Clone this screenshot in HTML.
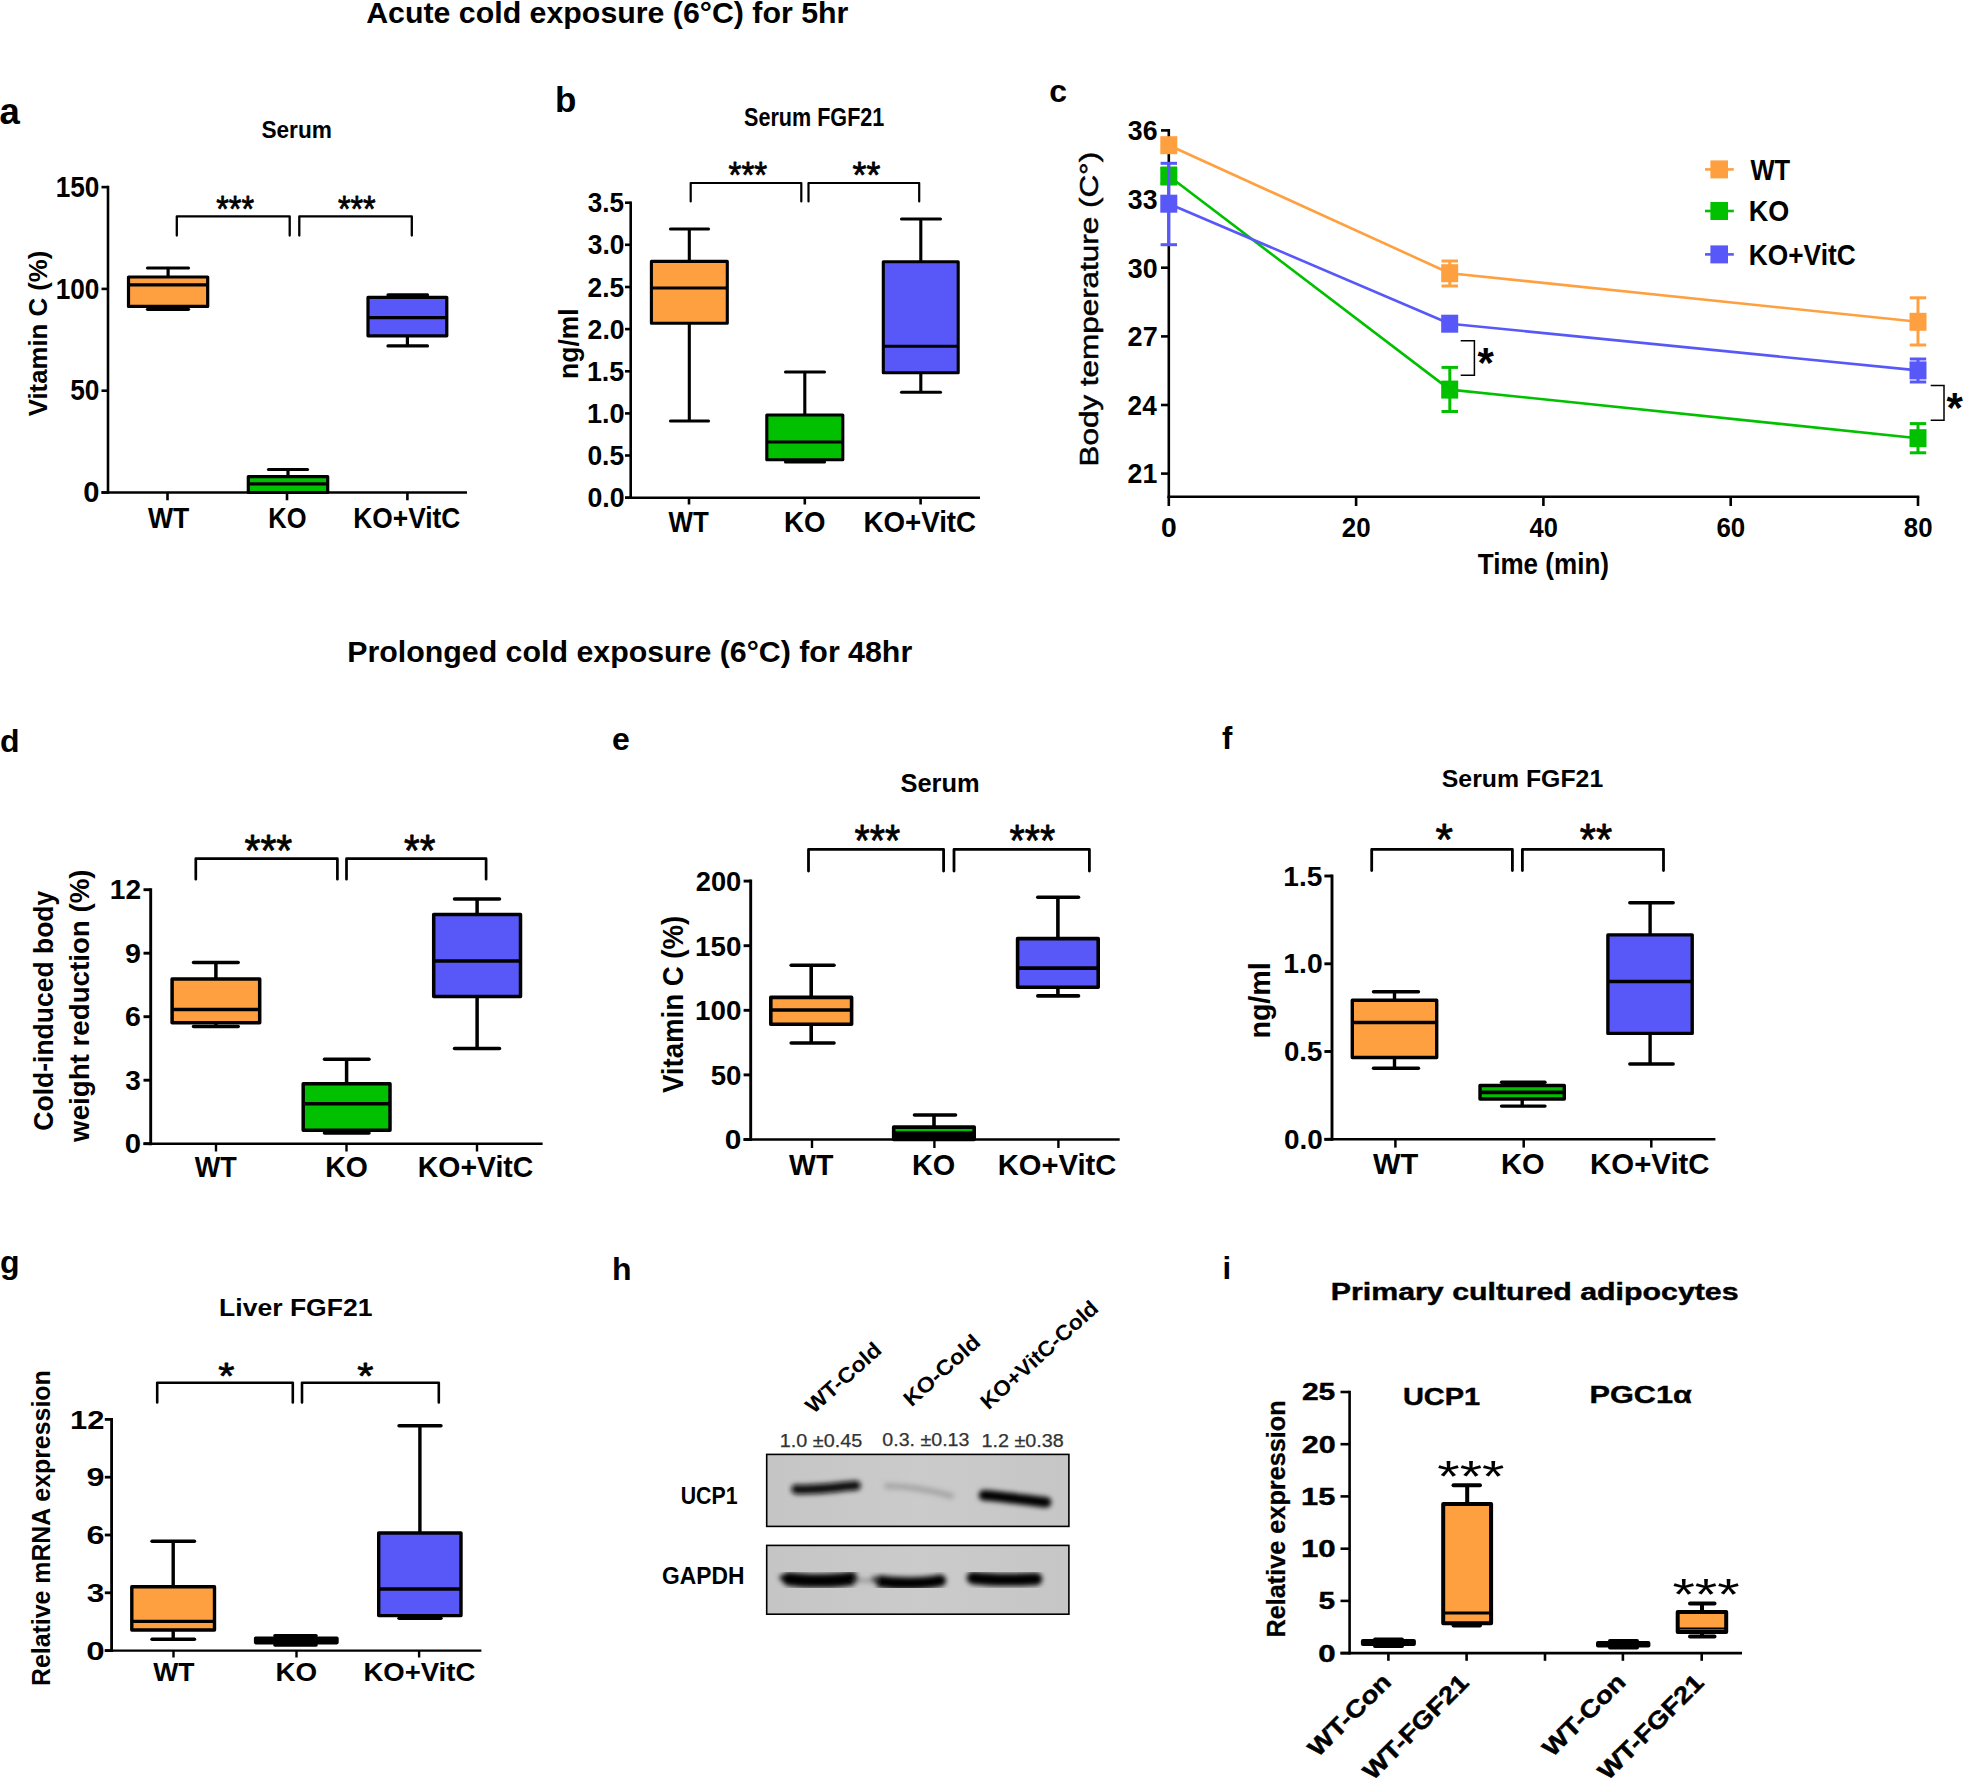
<!DOCTYPE html>
<html lang="en">
<head>
<meta charset="utf-8">
<title>Cold exposure figure</title>
<style>
html,body{margin:0;padding:0;background:#fff;}
body{width:1965px;height:1778px;overflow:hidden;}
svg{display:block;}
svg text{font-family:"Liberation Sans", Arial, sans-serif;}
</style>
</head>
<body>
<svg width="1965" height="1778" viewBox="0 0 1965 1778">
<rect x="0" y="0" width="1965" height="1778" fill="#fff"/>
<text x="366.2" y="22.9" font-size="30" font-weight="bold" fill="#000" textLength="482.2" lengthAdjust="spacingAndGlyphs">Acute cold exposure (6°C) for 5hr</text>
<text x="347.2" y="661.6" font-size="29" font-weight="bold" fill="#000" textLength="565.0" lengthAdjust="spacingAndGlyphs">Prolonged cold exposure (6°C) for 48hr</text>
<text x="-0.5" y="123.7" font-size="36.5" font-weight="bold" fill="#000">a</text>
<text x="555.0" y="112.0" font-size="35" font-weight="bold" fill="#000">b</text>
<text x="1049.3" y="102.0" font-size="32" font-weight="bold" fill="#000">c</text>
<text x="0.0" y="751.5" font-size="32" font-weight="bold" fill="#000">d</text>
<text x="612.0" y="749.5" font-size="32" font-weight="bold" fill="#000">e</text>
<text x="1222.0" y="749.0" font-size="31" font-weight="bold" fill="#000">f</text>
<text x="0.0" y="1272.5" font-size="32" font-weight="bold" fill="#000">g</text>
<text x="612.0" y="1279.7" font-size="32" font-weight="bold" fill="#000">h</text>
<text x="1222.5" y="1279.0" font-size="31" font-weight="bold" fill="#000">i</text>
<text x="261.4" y="137.5" font-size="24" font-weight="bold" fill="#000" textLength="70.5" lengthAdjust="spacingAndGlyphs">Serum</text>
<line x1="108.0" y1="185.8" x2="108.0" y2="493.8" stroke="#000" stroke-width="2.6" stroke-linecap="butt"/>
<line x1="101.5" y1="187.1" x2="108.0" y2="187.1" stroke="#000" stroke-width="2.6" stroke-linecap="butt"/>
<line x1="101.5" y1="288.9" x2="108.0" y2="288.9" stroke="#000" stroke-width="2.6" stroke-linecap="butt"/>
<line x1="101.5" y1="390.7" x2="108.0" y2="390.7" stroke="#000" stroke-width="2.6" stroke-linecap="butt"/>
<line x1="101.5" y1="492.5" x2="108.0" y2="492.5" stroke="#000" stroke-width="2.6" stroke-linecap="butt"/>
<line x1="101.5" y1="492.5" x2="467.0" y2="492.5" stroke="#000" stroke-width="2.6" stroke-linecap="butt"/>
<line x1="167.5" y1="492.5" x2="167.5" y2="500.3" stroke="#000" stroke-width="2.6" stroke-linecap="butt"/>
<line x1="287.0" y1="492.5" x2="287.0" y2="500.3" stroke="#000" stroke-width="2.6" stroke-linecap="butt"/>
<line x1="407.4" y1="492.5" x2="407.4" y2="500.3" stroke="#000" stroke-width="2.6" stroke-linecap="butt"/>
<text x="55.7" y="196.7" font-size="28.8" font-weight="bold" fill="#000" textLength="43.7" lengthAdjust="spacingAndGlyphs">150</text>
<text x="55.7" y="298.5" font-size="28.8" font-weight="bold" fill="#000" textLength="43.7" lengthAdjust="spacingAndGlyphs">100</text>
<text x="70.2" y="400.3" font-size="28.8" font-weight="bold" fill="#000" textLength="29.2" lengthAdjust="spacingAndGlyphs">50</text>
<text x="83.3" y="502.1" font-size="28.8" font-weight="bold" fill="#000" textLength="16.2" lengthAdjust="spacingAndGlyphs">0</text>
<text x="148.0" y="527.6" font-size="30" font-weight="bold" fill="#000" textLength="41.3" lengthAdjust="spacingAndGlyphs">WT</text>
<text x="268.3" y="527.6" font-size="30" font-weight="bold" fill="#000" textLength="38.2" lengthAdjust="spacingAndGlyphs">KO</text>
<text x="353.3" y="527.6" font-size="30" font-weight="bold" fill="#000" textLength="107.1" lengthAdjust="spacingAndGlyphs">KO+VitC</text>
<text transform="translate(46.6,416.2) rotate(-90)" x="-0.1" y="0" font-size="26.5" font-weight="bold" fill="#000" textLength="165.6" lengthAdjust="spacingAndGlyphs">Vitamin C (%)</text>
<line x1="168.1" y1="268.0" x2="168.1" y2="277.0" stroke="#000" stroke-width="3.2" stroke-linecap="butt"/>
<line x1="147.5" y1="268.0" x2="188.5" y2="268.0" stroke="#000" stroke-width="3.2" stroke-linecap="round"/>
<line x1="168.1" y1="306.4" x2="168.1" y2="309.3" stroke="#000" stroke-width="3.2" stroke-linecap="butt"/>
<line x1="147.5" y1="309.3" x2="188.5" y2="309.3" stroke="#000" stroke-width="3.2" stroke-linecap="round"/>
<rect x="128.5" y="277.0" width="79.2" height="29.4" fill="#FFA040" stroke="#000" stroke-width="3.2" stroke-linejoin="round"/>
<line x1="128.5" y1="284.9" x2="207.7" y2="284.9" stroke="#000" stroke-width="3.2" stroke-linecap="butt"/>
<line x1="288.0" y1="469.5" x2="288.0" y2="476.6" stroke="#000" stroke-width="3.2" stroke-linecap="butt"/>
<line x1="268.5" y1="469.5" x2="307.5" y2="469.5" stroke="#000" stroke-width="3.2" stroke-linecap="round"/>
<rect x="248.3" y="476.6" width="79.4" height="15.9" fill="#00C000" stroke="#000" stroke-width="3.2" stroke-linejoin="round"/>
<line x1="248.3" y1="483.8" x2="327.7" y2="483.8" stroke="#000" stroke-width="3.2" stroke-linecap="butt"/>
<line x1="407.4" y1="294.9" x2="407.4" y2="297.3" stroke="#000" stroke-width="3.2" stroke-linecap="butt"/>
<line x1="388.0" y1="294.9" x2="427.5" y2="294.9" stroke="#000" stroke-width="3.2" stroke-linecap="round"/>
<line x1="407.4" y1="335.8" x2="407.4" y2="345.9" stroke="#000" stroke-width="3.2" stroke-linecap="butt"/>
<line x1="388.0" y1="345.9" x2="427.5" y2="345.9" stroke="#000" stroke-width="3.2" stroke-linecap="round"/>
<rect x="368.0" y="297.3" width="78.8" height="38.5" fill="#5858F8" stroke="#000" stroke-width="3.2" stroke-linejoin="round"/>
<line x1="368.0" y1="317.6" x2="446.8" y2="317.6" stroke="#000" stroke-width="3.2" stroke-linecap="butt"/>
<path d="M176.8,235.5 V216.4 H289.7 V235.5" fill="none" stroke="#000" stroke-width="2.3" stroke-linejoin="round" stroke-linecap="round"/>
<path d="M299.3,235.5 V216.4 H411.8 V235.5" fill="none" stroke="#000" stroke-width="2.3" stroke-linejoin="round" stroke-linecap="round"/>
<text x="216.2" y="222.1" font-size="37.1" font-weight="normal" stroke="#000" stroke-width="0.8" stroke-linejoin="round" textLength="37.8" lengthAdjust="spacingAndGlyphs">***</text>
<text x="337.9" y="222.1" font-size="37.1" font-weight="normal" stroke="#000" stroke-width="0.8" stroke-linejoin="round" textLength="37.8" lengthAdjust="spacingAndGlyphs">***</text>
<text x="744.1" y="126.0" font-size="25" font-weight="bold" fill="#000" textLength="140.2" lengthAdjust="spacingAndGlyphs">Serum FGF21</text>
<line x1="630.7" y1="201.4" x2="630.7" y2="499.0" stroke="#000" stroke-width="2.6" stroke-linecap="butt"/>
<line x1="625.0" y1="202.7" x2="630.7" y2="202.7" stroke="#000" stroke-width="2.6" stroke-linecap="butt"/>
<line x1="625.0" y1="244.8" x2="630.7" y2="244.8" stroke="#000" stroke-width="2.6" stroke-linecap="butt"/>
<line x1="625.0" y1="287.0" x2="630.7" y2="287.0" stroke="#000" stroke-width="2.6" stroke-linecap="butt"/>
<line x1="625.0" y1="329.1" x2="630.7" y2="329.1" stroke="#000" stroke-width="2.6" stroke-linecap="butt"/>
<line x1="625.0" y1="371.3" x2="630.7" y2="371.3" stroke="#000" stroke-width="2.6" stroke-linecap="butt"/>
<line x1="625.0" y1="413.4" x2="630.7" y2="413.4" stroke="#000" stroke-width="2.6" stroke-linecap="butt"/>
<line x1="625.0" y1="455.5" x2="630.7" y2="455.5" stroke="#000" stroke-width="2.6" stroke-linecap="butt"/>
<line x1="625.0" y1="497.7" x2="630.7" y2="497.7" stroke="#000" stroke-width="2.6" stroke-linecap="butt"/>
<line x1="625.0" y1="497.7" x2="980.0" y2="497.7" stroke="#000" stroke-width="2.6" stroke-linecap="butt"/>
<line x1="689.0" y1="497.7" x2="689.0" y2="504.5" stroke="#000" stroke-width="2.6" stroke-linecap="butt"/>
<line x1="804.8" y1="497.7" x2="804.8" y2="504.5" stroke="#000" stroke-width="2.6" stroke-linecap="butt"/>
<line x1="920.6" y1="497.7" x2="920.6" y2="504.5" stroke="#000" stroke-width="2.6" stroke-linecap="butt"/>
<text x="587.8" y="212.3" font-size="28.5" font-weight="bold" fill="#000" textLength="36.3" lengthAdjust="spacingAndGlyphs">3.5</text>
<text x="587.8" y="254.4" font-size="28.5" font-weight="bold" fill="#000" textLength="36.7" lengthAdjust="spacingAndGlyphs">3.0</text>
<text x="587.6" y="296.6" font-size="28.5" font-weight="bold" fill="#000" textLength="36.6" lengthAdjust="spacingAndGlyphs">2.5</text>
<text x="587.6" y="338.7" font-size="28.5" font-weight="bold" fill="#000" textLength="37.0" lengthAdjust="spacingAndGlyphs">2.0</text>
<text x="586.9" y="380.9" font-size="28.5" font-weight="bold" fill="#000" textLength="37.3" lengthAdjust="spacingAndGlyphs">1.5</text>
<text x="586.9" y="423.0" font-size="28.5" font-weight="bold" fill="#000" textLength="37.7" lengthAdjust="spacingAndGlyphs">1.0</text>
<text x="587.4" y="465.1" font-size="28.5" font-weight="bold" fill="#000" textLength="36.7" lengthAdjust="spacingAndGlyphs">0.5</text>
<text x="587.4" y="507.3" font-size="28.5" font-weight="bold" fill="#000" textLength="37.1" lengthAdjust="spacingAndGlyphs">0.0</text>
<text x="668.5" y="531.5" font-size="29.5" font-weight="bold" fill="#000" textLength="40.2" lengthAdjust="spacingAndGlyphs">WT</text>
<text x="784.1" y="531.5" font-size="29.5" font-weight="bold" fill="#000" textLength="41.4" lengthAdjust="spacingAndGlyphs">KO</text>
<text x="863.4" y="531.5" font-size="29.5" font-weight="bold" fill="#000" textLength="112.7" lengthAdjust="spacingAndGlyphs">KO+VitC</text>
<text transform="translate(577.5,377.2) rotate(-90)" x="-1.7" y="0" font-size="28" font-weight="bold" fill="#000" textLength="70.5" lengthAdjust="spacingAndGlyphs">ng/ml</text>
<line x1="689.3" y1="229.0" x2="689.3" y2="261.4" stroke="#000" stroke-width="3.1" stroke-linecap="butt"/>
<line x1="670.5" y1="229.0" x2="708.5" y2="229.0" stroke="#000" stroke-width="3.1" stroke-linecap="round"/>
<line x1="689.3" y1="323.3" x2="689.3" y2="421.0" stroke="#000" stroke-width="3.1" stroke-linecap="butt"/>
<line x1="670.5" y1="421.0" x2="708.5" y2="421.0" stroke="#000" stroke-width="3.1" stroke-linecap="round"/>
<rect x="651.4" y="261.4" width="75.9" height="61.9" fill="#FFA040" stroke="#000" stroke-width="3.1" stroke-linejoin="round"/>
<line x1="651.4" y1="288.0" x2="727.3" y2="288.0" stroke="#000" stroke-width="3.1" stroke-linecap="butt"/>
<line x1="804.8" y1="372.0" x2="804.8" y2="415.0" stroke="#000" stroke-width="3.1" stroke-linecap="butt"/>
<line x1="785.5" y1="372.0" x2="824.5" y2="372.0" stroke="#000" stroke-width="3.1" stroke-linecap="round"/>
<line x1="804.8" y1="459.8" x2="804.8" y2="462.0" stroke="#000" stroke-width="3.1" stroke-linecap="butt"/>
<line x1="785.5" y1="462.0" x2="824.5" y2="462.0" stroke="#000" stroke-width="3.1" stroke-linecap="round"/>
<rect x="766.8" y="415.0" width="76.0" height="44.8" fill="#00C000" stroke="#000" stroke-width="3.1" stroke-linejoin="round"/>
<line x1="766.8" y1="442.0" x2="842.8" y2="442.0" stroke="#000" stroke-width="3.1" stroke-linecap="butt"/>
<line x1="920.8" y1="219.0" x2="920.8" y2="261.8" stroke="#000" stroke-width="3.1" stroke-linecap="butt"/>
<line x1="901.5" y1="219.0" x2="940.5" y2="219.0" stroke="#000" stroke-width="3.1" stroke-linecap="round"/>
<line x1="920.8" y1="372.8" x2="920.8" y2="392.3" stroke="#000" stroke-width="3.1" stroke-linecap="butt"/>
<line x1="901.5" y1="392.3" x2="940.5" y2="392.3" stroke="#000" stroke-width="3.1" stroke-linecap="round"/>
<rect x="883.3" y="261.8" width="74.9" height="111.0" fill="#5858F8" stroke="#000" stroke-width="3.1" stroke-linejoin="round"/>
<line x1="883.3" y1="346.3" x2="958.2" y2="346.3" stroke="#000" stroke-width="3.1" stroke-linecap="butt"/>
<path d="M690.7,201.5 V183.0 H801.3 V201.5" fill="none" stroke="#000" stroke-width="2.2" stroke-linejoin="round" stroke-linecap="round"/>
<path d="M808.5,201.5 V183.0 H919.2 V201.5" fill="none" stroke="#000" stroke-width="2.2" stroke-linejoin="round" stroke-linecap="round"/>
<text x="728.6" y="187.6" font-size="36.6" font-weight="normal" stroke="#000" stroke-width="0.8" stroke-linejoin="round" textLength="38.6" lengthAdjust="spacingAndGlyphs">***</text>
<text x="852.6" y="187.6" font-size="36.6" font-weight="normal" stroke="#000" stroke-width="0.8" stroke-linejoin="round" textLength="27.8" lengthAdjust="spacingAndGlyphs">**</text>
<line x1="1168.8" y1="129.1" x2="1168.8" y2="498.1" stroke="#000" stroke-width="2.6" stroke-linecap="butt"/>
<line x1="1161.0" y1="130.4" x2="1168.8" y2="130.4" stroke="#000" stroke-width="2.6" stroke-linecap="butt"/>
<line x1="1161.0" y1="199.1" x2="1168.8" y2="199.1" stroke="#000" stroke-width="2.6" stroke-linecap="butt"/>
<line x1="1161.0" y1="267.7" x2="1168.8" y2="267.7" stroke="#000" stroke-width="2.6" stroke-linecap="butt"/>
<line x1="1161.0" y1="336.4" x2="1168.8" y2="336.4" stroke="#000" stroke-width="2.6" stroke-linecap="butt"/>
<line x1="1161.0" y1="405.0" x2="1168.8" y2="405.0" stroke="#000" stroke-width="2.6" stroke-linecap="butt"/>
<line x1="1161.0" y1="473.6" x2="1168.8" y2="473.6" stroke="#000" stroke-width="2.6" stroke-linecap="butt"/>
<line x1="1167.5" y1="496.8" x2="1919.3" y2="496.8" stroke="#000" stroke-width="2.6" stroke-linecap="butt"/>
<line x1="1168.8" y1="496.8" x2="1168.8" y2="506.0" stroke="#000" stroke-width="2.6" stroke-linecap="butt"/>
<line x1="1356.1" y1="496.8" x2="1356.1" y2="506.0" stroke="#000" stroke-width="2.6" stroke-linecap="butt"/>
<line x1="1543.4" y1="496.8" x2="1543.4" y2="506.0" stroke="#000" stroke-width="2.6" stroke-linecap="butt"/>
<line x1="1730.7" y1="496.8" x2="1730.7" y2="506.0" stroke="#000" stroke-width="2.6" stroke-linecap="butt"/>
<line x1="1918.0" y1="496.8" x2="1918.0" y2="506.0" stroke="#000" stroke-width="2.6" stroke-linecap="butt"/>
<text x="1127.8" y="140.2" font-size="27.8" font-weight="bold" fill="#000" textLength="29.7" lengthAdjust="spacingAndGlyphs">36</text>
<text x="1127.8" y="208.9" font-size="27.8" font-weight="bold" fill="#000" textLength="29.7" lengthAdjust="spacingAndGlyphs">33</text>
<text x="1127.8" y="277.5" font-size="27.8" font-weight="bold" fill="#000" textLength="29.8" lengthAdjust="spacingAndGlyphs">30</text>
<text x="1127.6" y="346.2" font-size="27.8" font-weight="bold" fill="#000" textLength="30.1" lengthAdjust="spacingAndGlyphs">27</text>
<text x="1127.6" y="414.8" font-size="27.8" font-weight="bold" fill="#000" textLength="29.1" lengthAdjust="spacingAndGlyphs">24</text>
<text x="1127.6" y="483.4" font-size="27.8" font-weight="bold" fill="#000" textLength="29.7" lengthAdjust="spacingAndGlyphs">21</text>
<text x="1161.0" y="536.8" font-size="28.5" font-weight="bold" fill="#000" textLength="15.7" lengthAdjust="spacingAndGlyphs">0</text>
<text x="1341.8" y="536.8" font-size="28.5" font-weight="bold" fill="#000" textLength="28.8" lengthAdjust="spacingAndGlyphs">20</text>
<text x="1529.6" y="536.8" font-size="28.5" font-weight="bold" fill="#000" textLength="28.3" lengthAdjust="spacingAndGlyphs">40</text>
<text x="1716.4" y="536.8" font-size="28.5" font-weight="bold" fill="#000" textLength="28.8" lengthAdjust="spacingAndGlyphs">60</text>
<text x="1903.8" y="536.8" font-size="28.5" font-weight="bold" fill="#000" textLength="28.7" lengthAdjust="spacingAndGlyphs">80</text>
<text x="1477.7" y="573.5" font-size="29" font-weight="bold" fill="#000" textLength="131.3" lengthAdjust="spacingAndGlyphs">Time (min)</text>
<text transform="translate(1098.0,464.0) rotate(-90)" x="-2.5" y="0" font-size="26.5" font-weight="normal" fill="#000" stroke="#000" stroke-width="0.5" textLength="314.6" lengthAdjust="spacingAndGlyphs">Body temperature (C°)</text>
<path d="M1168.8,145.2 L1449.8,273.2 L1918.0,321.8" fill="none" stroke="#FFA040" stroke-width="2.6" stroke-linejoin="round"/>
<line x1="1449.8" y1="261.0" x2="1449.8" y2="286.0" stroke="#FFA040" stroke-width="3" stroke-linecap="butt"/>
<line x1="1441.5" y1="261.0" x2="1458.0" y2="261.0" stroke="#FFA040" stroke-width="3" stroke-linecap="butt"/>
<line x1="1441.5" y1="286.0" x2="1458.0" y2="286.0" stroke="#FFA040" stroke-width="3" stroke-linecap="butt"/>
<line x1="1918.0" y1="297.8" x2="1918.0" y2="345.0" stroke="#FFA040" stroke-width="3" stroke-linecap="butt"/>
<line x1="1909.8" y1="297.8" x2="1926.2" y2="297.8" stroke="#FFA040" stroke-width="3" stroke-linecap="butt"/>
<line x1="1909.8" y1="345.0" x2="1926.2" y2="345.0" stroke="#FFA040" stroke-width="3" stroke-linecap="butt"/>
<rect x="1160.3" y="136.2" width="17" height="18" fill="#FFA040"/>
<rect x="1441.2" y="264.2" width="17" height="18" fill="#FFA040"/>
<rect x="1909.5" y="312.8" width="17" height="18" fill="#FFA040"/>
<path d="M1168.8,176.0 L1449.8,389.6 L1918.0,438.2" fill="none" stroke="#00C000" stroke-width="2.6" stroke-linejoin="round"/>
<line x1="1168.8" y1="168.0" x2="1168.8" y2="184.0" stroke="#00C000" stroke-width="3" stroke-linecap="butt"/>
<line x1="1160.6" y1="168.0" x2="1177.0" y2="168.0" stroke="#00C000" stroke-width="3" stroke-linecap="butt"/>
<line x1="1160.6" y1="184.0" x2="1177.0" y2="184.0" stroke="#00C000" stroke-width="3" stroke-linecap="butt"/>
<line x1="1449.8" y1="367.4" x2="1449.8" y2="411.5" stroke="#00C000" stroke-width="3" stroke-linecap="butt"/>
<line x1="1441.5" y1="367.4" x2="1458.0" y2="367.4" stroke="#00C000" stroke-width="3" stroke-linecap="butt"/>
<line x1="1441.5" y1="411.5" x2="1458.0" y2="411.5" stroke="#00C000" stroke-width="3" stroke-linecap="butt"/>
<line x1="1918.0" y1="423.6" x2="1918.0" y2="452.8" stroke="#00C000" stroke-width="3" stroke-linecap="butt"/>
<line x1="1909.8" y1="423.6" x2="1926.2" y2="423.6" stroke="#00C000" stroke-width="3" stroke-linecap="butt"/>
<line x1="1909.8" y1="452.8" x2="1926.2" y2="452.8" stroke="#00C000" stroke-width="3" stroke-linecap="butt"/>
<rect x="1160.3" y="167.0" width="17" height="18" fill="#00C000"/>
<rect x="1441.2" y="380.6" width="17" height="18" fill="#00C000"/>
<rect x="1909.5" y="429.2" width="17" height="18" fill="#00C000"/>
<path d="M1168.8,203.7 L1449.8,323.7 L1918.0,370.4" fill="none" stroke="#5858F8" stroke-width="2.6" stroke-linejoin="round"/>
<line x1="1168.8" y1="163.3" x2="1168.8" y2="244.7" stroke="#5858F8" stroke-width="3" stroke-linecap="butt"/>
<line x1="1160.6" y1="163.3" x2="1177.0" y2="163.3" stroke="#5858F8" stroke-width="3" stroke-linecap="butt"/>
<line x1="1160.6" y1="244.7" x2="1177.0" y2="244.7" stroke="#5858F8" stroke-width="3" stroke-linecap="butt"/>
<line x1="1918.0" y1="359.0" x2="1918.0" y2="382.0" stroke="#5858F8" stroke-width="3" stroke-linecap="butt"/>
<line x1="1909.8" y1="359.0" x2="1926.2" y2="359.0" stroke="#5858F8" stroke-width="3" stroke-linecap="butt"/>
<line x1="1909.8" y1="382.0" x2="1926.2" y2="382.0" stroke="#5858F8" stroke-width="3" stroke-linecap="butt"/>
<rect x="1160.3" y="194.7" width="17" height="18" fill="#5858F8"/>
<rect x="1441.2" y="314.7" width="17" height="18" fill="#5858F8"/>
<rect x="1909.5" y="361.4" width="17" height="18" fill="#5858F8"/>
<path d="M1460.7,340.7 H1474.4 V375.3 H1460.7" fill="none" stroke="#000" stroke-width="1.5"/>
<path d="M1930.7,385.6 H1944 V420.3 H1930.7" fill="none" stroke="#000" stroke-width="1.5"/>
<text x="1477.5" y="376.8" font-size="42" font-weight="bold" fill="#000">*</text>
<text x="1946.5" y="422.0" font-size="42" font-weight="bold" fill="#000">*</text>
<line x1="1705.0" y1="169.4" x2="1733.8" y2="169.4" stroke="#FFA040" stroke-width="2.6" stroke-linecap="butt"/>
<rect x="1710.4" y="160.4" width="17.6" height="18" fill="#FFA040"/>
<text x="1750.5" y="179.7" font-size="29.5" font-weight="bold" fill="#000" textLength="39.7" lengthAdjust="spacingAndGlyphs">WT</text>
<line x1="1705.0" y1="211.0" x2="1733.8" y2="211.0" stroke="#00C000" stroke-width="2.6" stroke-linecap="butt"/>
<rect x="1710.4" y="202.0" width="17.6" height="18" fill="#00C000"/>
<text x="1748.7" y="221.3" font-size="29.5" font-weight="bold" fill="#000" textLength="40.5" lengthAdjust="spacingAndGlyphs">KO</text>
<line x1="1705.0" y1="254.4" x2="1733.8" y2="254.4" stroke="#5858F8" stroke-width="2.6" stroke-linecap="butt"/>
<rect x="1710.4" y="245.4" width="17.6" height="18" fill="#5858F8"/>
<text x="1748.8" y="264.7" font-size="29.5" font-weight="bold" fill="#000" textLength="106.9" lengthAdjust="spacingAndGlyphs">KO+VitC</text>
<line x1="150.7" y1="888.2" x2="150.7" y2="1145.2" stroke="#000" stroke-width="2.9" stroke-linecap="butt"/>
<line x1="143.5" y1="889.7" x2="150.7" y2="889.7" stroke="#000" stroke-width="2.9" stroke-linecap="butt"/>
<line x1="143.5" y1="953.2" x2="150.7" y2="953.2" stroke="#000" stroke-width="2.9" stroke-linecap="butt"/>
<line x1="143.5" y1="1016.7" x2="150.7" y2="1016.7" stroke="#000" stroke-width="2.9" stroke-linecap="butt"/>
<line x1="143.5" y1="1080.2" x2="150.7" y2="1080.2" stroke="#000" stroke-width="2.9" stroke-linecap="butt"/>
<line x1="143.5" y1="1143.7" x2="150.7" y2="1143.7" stroke="#000" stroke-width="2.9" stroke-linecap="butt"/>
<line x1="143.5" y1="1143.7" x2="542.6" y2="1143.7" stroke="#000" stroke-width="2.4" stroke-linecap="butt"/>
<line x1="216.0" y1="1143.7" x2="216.0" y2="1151.5" stroke="#000" stroke-width="2.4" stroke-linecap="butt"/>
<line x1="346.5" y1="1143.7" x2="346.5" y2="1151.5" stroke="#000" stroke-width="2.4" stroke-linecap="butt"/>
<line x1="477.0" y1="1143.7" x2="477.0" y2="1151.5" stroke="#000" stroke-width="2.4" stroke-linecap="butt"/>
<text x="109.8" y="899.3" font-size="27.5" font-weight="bold" fill="#000" textLength="31.3" lengthAdjust="spacingAndGlyphs">12</text>
<text x="125.0" y="962.8" font-size="27.5" font-weight="bold" fill="#000" textLength="15.9" lengthAdjust="spacingAndGlyphs">9</text>
<text x="125.0" y="1026.3" font-size="27.5" font-weight="bold" fill="#000" textLength="15.9" lengthAdjust="spacingAndGlyphs">6</text>
<text x="125.3" y="1089.8" font-size="27.5" font-weight="bold" fill="#000" textLength="15.6" lengthAdjust="spacingAndGlyphs">3</text>
<text x="124.8" y="1153.3" font-size="27.5" font-weight="bold" fill="#000" textLength="16.3" lengthAdjust="spacingAndGlyphs">0</text>
<text x="194.8" y="1177.0" font-size="29.5" font-weight="bold" fill="#000" textLength="42.0" lengthAdjust="spacingAndGlyphs">WT</text>
<text x="325.2" y="1177.0" font-size="29.5" font-weight="bold" fill="#000" textLength="42.6" lengthAdjust="spacingAndGlyphs">KO</text>
<text x="417.8" y="1177.0" font-size="29.5" font-weight="bold" fill="#000" textLength="115.5" lengthAdjust="spacingAndGlyphs">KO+VitC</text>
<text transform="translate(53.0,1129.6) rotate(-90)" x="-1.1" y="0" font-size="27" font-weight="bold" fill="#000" textLength="240.0" lengthAdjust="spacingAndGlyphs">Cold-induced body</text>
<text transform="translate(89.0,1142.0) rotate(-90)" x="0.1" y="0" font-size="27" font-weight="bold" fill="#000" textLength="272.5" lengthAdjust="spacingAndGlyphs">weight reduction  (%)</text>
<line x1="215.9" y1="962.6" x2="215.9" y2="979.1" stroke="#000" stroke-width="3.5" stroke-linecap="butt"/>
<line x1="193.5" y1="962.6" x2="238.2" y2="962.6" stroke="#000" stroke-width="3.5" stroke-linecap="round"/>
<line x1="215.9" y1="1022.8" x2="215.9" y2="1026.4" stroke="#000" stroke-width="3.5" stroke-linecap="butt"/>
<line x1="193.5" y1="1026.4" x2="238.2" y2="1026.4" stroke="#000" stroke-width="3.5" stroke-linecap="round"/>
<rect x="172.1" y="979.1" width="87.6" height="43.7" fill="#FFA040" stroke="#000" stroke-width="3.5" stroke-linejoin="round"/>
<line x1="172.1" y1="1009.4" x2="259.7" y2="1009.4" stroke="#000" stroke-width="3.5" stroke-linecap="butt"/>
<line x1="346.6" y1="1059.2" x2="346.6" y2="1083.8" stroke="#000" stroke-width="3.5" stroke-linecap="butt"/>
<line x1="324.5" y1="1059.2" x2="369.0" y2="1059.2" stroke="#000" stroke-width="3.5" stroke-linecap="round"/>
<line x1="346.6" y1="1130.2" x2="346.6" y2="1132.9" stroke="#000" stroke-width="3.5" stroke-linecap="butt"/>
<line x1="324.5" y1="1132.9" x2="369.0" y2="1132.9" stroke="#000" stroke-width="3.5" stroke-linecap="round"/>
<rect x="303.2" y="1083.8" width="86.8" height="46.4" fill="#00C000" stroke="#000" stroke-width="3.5" stroke-linejoin="round"/>
<line x1="303.2" y1="1103.8" x2="390.0" y2="1103.8" stroke="#000" stroke-width="3.5" stroke-linecap="butt"/>
<line x1="477.1" y1="899.0" x2="477.1" y2="914.6" stroke="#000" stroke-width="3.5" stroke-linecap="butt"/>
<line x1="454.5" y1="899.0" x2="499.5" y2="899.0" stroke="#000" stroke-width="3.5" stroke-linecap="round"/>
<line x1="477.1" y1="996.4" x2="477.1" y2="1048.4" stroke="#000" stroke-width="3.5" stroke-linecap="butt"/>
<line x1="454.5" y1="1048.4" x2="499.5" y2="1048.4" stroke="#000" stroke-width="3.5" stroke-linecap="round"/>
<rect x="433.7" y="914.6" width="86.8" height="81.8" fill="#5858F8" stroke="#000" stroke-width="3.5" stroke-linejoin="round"/>
<line x1="433.7" y1="961.0" x2="520.5" y2="961.0" stroke="#000" stroke-width="3.5" stroke-linecap="butt"/>
<path d="M195.8,879.2 V858.7 H337.4 V879.2" fill="none" stroke="#000" stroke-width="2.7" stroke-linejoin="round" stroke-linecap="round"/>
<path d="M346.5,879.2 V858.7 H486.1 V879.2" fill="none" stroke="#000" stroke-width="2.7" stroke-linejoin="round" stroke-linecap="round"/>
<text x="244.5" y="865.9" font-size="44.3" font-weight="normal" stroke="#000" stroke-width="0.8" stroke-linejoin="round" textLength="47.8" lengthAdjust="spacingAndGlyphs">***</text>
<text x="404.1" y="865.9" font-size="44.3" font-weight="normal" stroke="#000" stroke-width="0.8" stroke-linejoin="round" textLength="31.4" lengthAdjust="spacingAndGlyphs">**</text>
<text x="900.5" y="792.3" font-size="25" font-weight="bold" fill="#000" textLength="79.2" lengthAdjust="spacingAndGlyphs">Serum</text>
<line x1="750.7" y1="879.6" x2="750.7" y2="1141.0" stroke="#000" stroke-width="2.9" stroke-linecap="butt"/>
<line x1="743.6" y1="881.1" x2="750.7" y2="881.1" stroke="#000" stroke-width="2.9" stroke-linecap="butt"/>
<line x1="743.6" y1="945.7" x2="750.7" y2="945.7" stroke="#000" stroke-width="2.9" stroke-linecap="butt"/>
<line x1="743.6" y1="1010.3" x2="750.7" y2="1010.3" stroke="#000" stroke-width="2.9" stroke-linecap="butt"/>
<line x1="743.6" y1="1074.9" x2="750.7" y2="1074.9" stroke="#000" stroke-width="2.9" stroke-linecap="butt"/>
<line x1="743.6" y1="1139.5" x2="750.7" y2="1139.5" stroke="#000" stroke-width="2.9" stroke-linecap="butt"/>
<line x1="743.6" y1="1139.5" x2="1119.7" y2="1139.5" stroke="#000" stroke-width="2.4" stroke-linecap="butt"/>
<line x1="812.0" y1="1139.5" x2="812.0" y2="1148.0" stroke="#000" stroke-width="2.4" stroke-linecap="butt"/>
<line x1="934.4" y1="1139.5" x2="934.4" y2="1148.0" stroke="#000" stroke-width="2.4" stroke-linecap="butt"/>
<line x1="1058.4" y1="1139.5" x2="1058.4" y2="1148.0" stroke="#000" stroke-width="2.4" stroke-linecap="butt"/>
<text x="695.8" y="890.9" font-size="28.5" font-weight="bold" fill="#000" textLength="45.5" lengthAdjust="spacingAndGlyphs">200</text>
<text x="695.1" y="955.5" font-size="28.5" font-weight="bold" fill="#000" textLength="46.3" lengthAdjust="spacingAndGlyphs">150</text>
<text x="695.1" y="1020.1" font-size="28.5" font-weight="bold" fill="#000" textLength="46.3" lengthAdjust="spacingAndGlyphs">100</text>
<text x="710.7" y="1084.7" font-size="28.5" font-weight="bold" fill="#000" textLength="30.7" lengthAdjust="spacingAndGlyphs">50</text>
<text x="724.8" y="1149.3" font-size="28.5" font-weight="bold" fill="#000" textLength="16.6" lengthAdjust="spacingAndGlyphs">0</text>
<text x="789.0" y="1174.5" font-size="29.5" font-weight="bold" fill="#000" textLength="44.3" lengthAdjust="spacingAndGlyphs">WT</text>
<text x="912.0" y="1174.5" font-size="29.5" font-weight="bold" fill="#000" textLength="43.3" lengthAdjust="spacingAndGlyphs">KO</text>
<text x="997.8" y="1174.5" font-size="29.5" font-weight="bold" fill="#000" textLength="118.5" lengthAdjust="spacingAndGlyphs">KO+VitC</text>
<text transform="translate(682.5,1093.0) rotate(-90)" x="-0.1" y="0" font-size="29" font-weight="bold" fill="#000" textLength="177.4" lengthAdjust="spacingAndGlyphs">Vitamin C (%)</text>
<line x1="811.2" y1="965.2" x2="811.2" y2="997.4" stroke="#000" stroke-width="3.6" stroke-linecap="butt"/>
<line x1="791.2" y1="965.2" x2="834.0" y2="965.2" stroke="#000" stroke-width="3.6" stroke-linecap="round"/>
<line x1="811.2" y1="1024.3" x2="811.2" y2="1043.0" stroke="#000" stroke-width="3.6" stroke-linecap="butt"/>
<line x1="791.2" y1="1043.0" x2="834.0" y2="1043.0" stroke="#000" stroke-width="3.6" stroke-linecap="round"/>
<rect x="770.8" y="997.4" width="80.8" height="26.9" fill="#FFA040" stroke="#000" stroke-width="3.6" stroke-linejoin="round"/>
<line x1="770.8" y1="1010.0" x2="851.6" y2="1010.0" stroke="#000" stroke-width="3.6" stroke-linecap="butt"/>
<line x1="934.0" y1="1115.0" x2="934.0" y2="1127.1" stroke="#000" stroke-width="3.6" stroke-linecap="butt"/>
<line x1="914.5" y1="1115.0" x2="955.5" y2="1115.0" stroke="#000" stroke-width="3.6" stroke-linecap="round"/>
<rect x="893.7" y="1127.1" width="80.5" height="12.3" fill="#00C000" stroke="#000" stroke-width="3.6" stroke-linejoin="round"/>
<line x1="893.7" y1="1134.6" x2="974.2" y2="1134.6" stroke="#000" stroke-width="6.8" stroke-linecap="butt"/>
<line x1="1057.9" y1="897.3" x2="1057.9" y2="938.6" stroke="#000" stroke-width="3.6" stroke-linecap="butt"/>
<line x1="1037.8" y1="897.3" x2="1078.5" y2="897.3" stroke="#000" stroke-width="3.6" stroke-linecap="round"/>
<line x1="1057.9" y1="987.2" x2="1057.9" y2="995.9" stroke="#000" stroke-width="3.6" stroke-linecap="butt"/>
<line x1="1037.8" y1="995.9" x2="1078.5" y2="995.9" stroke="#000" stroke-width="3.6" stroke-linecap="round"/>
<rect x="1017.6" y="938.6" width="80.6" height="48.6" fill="#5858F8" stroke="#000" stroke-width="3.6" stroke-linejoin="round"/>
<line x1="1017.6" y1="968.1" x2="1098.2" y2="968.1" stroke="#000" stroke-width="3.6" stroke-linecap="butt"/>
<path d="M808.5,871.0 V849.4 H943.6 V871.0" fill="none" stroke="#000" stroke-width="2.8" stroke-linejoin="round" stroke-linecap="round"/>
<path d="M954.0,871.0 V849.4 H1089.4 V871.0" fill="none" stroke="#000" stroke-width="2.8" stroke-linejoin="round" stroke-linecap="round"/>
<text x="854.6" y="855.9" font-size="45.1" font-weight="normal" stroke="#000" stroke-width="0.8" stroke-linejoin="round" textLength="45.6" lengthAdjust="spacingAndGlyphs">***</text>
<text x="1009.5" y="855.9" font-size="45.1" font-weight="normal" stroke="#000" stroke-width="0.8" stroke-linejoin="round" textLength="45.6" lengthAdjust="spacingAndGlyphs">***</text>
<text x="1441.8" y="787.0" font-size="24.5" font-weight="bold" fill="#000" textLength="161.4" lengthAdjust="spacingAndGlyphs">Serum FGF21</text>
<line x1="1332.0" y1="874.5" x2="1332.0" y2="1140.8" stroke="#000" stroke-width="2.9" stroke-linecap="butt"/>
<line x1="1324.4" y1="876.0" x2="1332.0" y2="876.0" stroke="#000" stroke-width="2.9" stroke-linecap="butt"/>
<line x1="1324.4" y1="963.8" x2="1332.0" y2="963.8" stroke="#000" stroke-width="2.9" stroke-linecap="butt"/>
<line x1="1324.4" y1="1051.5" x2="1332.0" y2="1051.5" stroke="#000" stroke-width="2.9" stroke-linecap="butt"/>
<line x1="1324.4" y1="1139.3" x2="1332.0" y2="1139.3" stroke="#000" stroke-width="2.9" stroke-linecap="butt"/>
<line x1="1324.4" y1="1139.3" x2="1715.4" y2="1139.3" stroke="#000" stroke-width="2.5" stroke-linecap="butt"/>
<line x1="1395.4" y1="1139.3" x2="1395.4" y2="1147.6" stroke="#000" stroke-width="2.5" stroke-linecap="butt"/>
<line x1="1523.7" y1="1139.3" x2="1523.7" y2="1147.6" stroke="#000" stroke-width="2.5" stroke-linecap="butt"/>
<line x1="1651.3" y1="1139.3" x2="1651.3" y2="1147.6" stroke="#000" stroke-width="2.5" stroke-linecap="butt"/>
<text x="1283.3" y="885.6" font-size="28.3" font-weight="bold" fill="#000" textLength="39.0" lengthAdjust="spacingAndGlyphs">1.5</text>
<text x="1283.3" y="973.4" font-size="28.3" font-weight="bold" fill="#000" textLength="39.4" lengthAdjust="spacingAndGlyphs">1.0</text>
<text x="1283.9" y="1061.1" font-size="28.3" font-weight="bold" fill="#000" textLength="38.4" lengthAdjust="spacingAndGlyphs">0.5</text>
<text x="1283.9" y="1148.9" font-size="28.3" font-weight="bold" fill="#000" textLength="38.8" lengthAdjust="spacingAndGlyphs">0.0</text>
<text x="1373.0" y="1174.0" font-size="29.5" font-weight="bold" fill="#000" textLength="45.3" lengthAdjust="spacingAndGlyphs">WT</text>
<text x="1501.1" y="1174.0" font-size="29.5" font-weight="bold" fill="#000" textLength="43.5" lengthAdjust="spacingAndGlyphs">KO</text>
<text x="1590.1" y="1174.0" font-size="29.5" font-weight="bold" fill="#000" textLength="119.5" lengthAdjust="spacingAndGlyphs">KO+VitC</text>
<text transform="translate(1269.5,1036.7) rotate(-90)" x="-1.9" y="0" font-size="29.5" font-weight="bold" fill="#000" textLength="76.3" lengthAdjust="spacingAndGlyphs">ng/ml</text>
<line x1="1394.5" y1="991.7" x2="1394.5" y2="1000.2" stroke="#000" stroke-width="3.4" stroke-linecap="butt"/>
<line x1="1373.5" y1="991.7" x2="1418.5" y2="991.7" stroke="#000" stroke-width="3.4" stroke-linecap="round"/>
<line x1="1394.5" y1="1057.5" x2="1394.5" y2="1068.3" stroke="#000" stroke-width="3.4" stroke-linecap="butt"/>
<line x1="1373.5" y1="1068.3" x2="1418.5" y2="1068.3" stroke="#000" stroke-width="3.4" stroke-linecap="round"/>
<rect x="1352.3" y="1000.2" width="84.4" height="57.3" fill="#FFA040" stroke="#000" stroke-width="3.4" stroke-linejoin="round"/>
<line x1="1352.3" y1="1022.5" x2="1436.7" y2="1022.5" stroke="#000" stroke-width="3.4" stroke-linecap="butt"/>
<line x1="1522.2" y1="1082.3" x2="1522.2" y2="1085.5" stroke="#000" stroke-width="3.4" stroke-linecap="butt"/>
<line x1="1501.5" y1="1082.3" x2="1545.0" y2="1082.3" stroke="#000" stroke-width="3.4" stroke-linecap="round"/>
<line x1="1522.2" y1="1099.0" x2="1522.2" y2="1106.1" stroke="#000" stroke-width="3.4" stroke-linecap="butt"/>
<line x1="1501.5" y1="1106.1" x2="1545.0" y2="1106.1" stroke="#000" stroke-width="3.4" stroke-linecap="round"/>
<rect x="1480.0" y="1085.5" width="84.3" height="13.5" fill="#00C000" stroke="#000" stroke-width="3.4" stroke-linejoin="round"/>
<line x1="1480.0" y1="1092.3" x2="1564.3" y2="1092.3" stroke="#000" stroke-width="3.8" stroke-linecap="butt"/>
<line x1="1650.1" y1="902.7" x2="1650.1" y2="934.9" stroke="#000" stroke-width="3.4" stroke-linecap="butt"/>
<line x1="1629.8" y1="902.7" x2="1673.2" y2="902.7" stroke="#000" stroke-width="3.4" stroke-linecap="round"/>
<line x1="1650.1" y1="1033.4" x2="1650.1" y2="1064.0" stroke="#000" stroke-width="3.4" stroke-linecap="butt"/>
<line x1="1629.8" y1="1064.0" x2="1673.2" y2="1064.0" stroke="#000" stroke-width="3.4" stroke-linecap="round"/>
<rect x="1607.9" y="934.9" width="84.3" height="98.5" fill="#5858F8" stroke="#000" stroke-width="3.4" stroke-linejoin="round"/>
<line x1="1607.9" y1="981.5" x2="1692.2" y2="981.5" stroke="#000" stroke-width="3.4" stroke-linecap="butt"/>
<path d="M1371.7,870.5 V849.4 H1512.4 V870.5" fill="none" stroke="#000" stroke-width="2.8" stroke-linejoin="round" stroke-linecap="round"/>
<path d="M1522.4,870.5 V849.4 H1663.5 V870.5" fill="none" stroke="#000" stroke-width="2.8" stroke-linejoin="round" stroke-linecap="round"/>
<text x="1435.4" y="855.3" font-size="43.7" font-weight="normal" stroke="#000" stroke-width="0.8" stroke-linejoin="round" textLength="17.5" lengthAdjust="spacingAndGlyphs">*</text>
<text x="1579.8" y="855.3" font-size="43.7" font-weight="normal" stroke="#000" stroke-width="0.8" stroke-linejoin="round" textLength="32.4" lengthAdjust="spacingAndGlyphs">**</text>
<text x="219.1" y="1316.3" font-size="24.5" font-weight="bold" fill="#000" textLength="153.4" lengthAdjust="spacingAndGlyphs">Liver FGF21</text>
<line x1="111.6" y1="1418.0" x2="111.6" y2="1652.0" stroke="#000" stroke-width="2.8" stroke-linecap="butt"/>
<line x1="104.8" y1="1419.4" x2="111.6" y2="1419.4" stroke="#000" stroke-width="2.8" stroke-linecap="butt"/>
<line x1="104.8" y1="1477.2" x2="111.6" y2="1477.2" stroke="#000" stroke-width="2.8" stroke-linecap="butt"/>
<line x1="104.8" y1="1535.0" x2="111.6" y2="1535.0" stroke="#000" stroke-width="2.8" stroke-linecap="butt"/>
<line x1="104.8" y1="1592.8" x2="111.6" y2="1592.8" stroke="#000" stroke-width="2.8" stroke-linecap="butt"/>
<line x1="104.8" y1="1650.6" x2="111.6" y2="1650.6" stroke="#000" stroke-width="2.8" stroke-linecap="butt"/>
<line x1="104.8" y1="1650.6" x2="481.4" y2="1650.6" stroke="#000" stroke-width="2.4" stroke-linecap="butt"/>
<line x1="173.5" y1="1650.6" x2="173.5" y2="1657.5" stroke="#000" stroke-width="2.4" stroke-linecap="butt"/>
<line x1="296.5" y1="1650.6" x2="296.5" y2="1657.5" stroke="#000" stroke-width="2.4" stroke-linecap="butt"/>
<line x1="419.1" y1="1650.6" x2="419.1" y2="1657.5" stroke="#000" stroke-width="2.4" stroke-linecap="butt"/>
<text x="70.1" y="1428.6" font-size="26.5" font-weight="bold" fill="#000" textLength="34.4" lengthAdjust="spacingAndGlyphs">12</text>
<text x="86.4" y="1486.4" font-size="26.5" font-weight="bold" fill="#000" textLength="18.0" lengthAdjust="spacingAndGlyphs">9</text>
<text x="86.4" y="1544.2" font-size="26.5" font-weight="bold" fill="#000" textLength="18.0" lengthAdjust="spacingAndGlyphs">6</text>
<text x="86.7" y="1602.0" font-size="26.5" font-weight="bold" fill="#000" textLength="17.6" lengthAdjust="spacingAndGlyphs">3</text>
<text x="86.2" y="1659.8" font-size="26.5" font-weight="bold" fill="#000" textLength="18.4" lengthAdjust="spacingAndGlyphs">0</text>
<text x="153.2" y="1680.8" font-size="26" font-weight="bold" fill="#000" textLength="41.2" lengthAdjust="spacingAndGlyphs">WT</text>
<text x="275.5" y="1680.8" font-size="26" font-weight="bold" fill="#000" textLength="41.7" lengthAdjust="spacingAndGlyphs">KO</text>
<text x="363.4" y="1680.8" font-size="26" font-weight="bold" fill="#000" textLength="111.9" lengthAdjust="spacingAndGlyphs">KO+VitC</text>
<text transform="translate(49.8,1684.5) rotate(-90)" x="-1.6" y="0" font-size="26" font-weight="bold" fill="#000" textLength="315.8" lengthAdjust="spacingAndGlyphs">Relative mRNA expression</text>
<line x1="173.2" y1="1541.2" x2="173.2" y2="1586.8" stroke="#000" stroke-width="3.4" stroke-linecap="butt"/>
<line x1="152.0" y1="1541.2" x2="194.5" y2="1541.2" stroke="#000" stroke-width="3.4" stroke-linecap="round"/>
<line x1="173.2" y1="1630.0" x2="173.2" y2="1639.2" stroke="#000" stroke-width="3.4" stroke-linecap="butt"/>
<line x1="152.0" y1="1639.2" x2="194.5" y2="1639.2" stroke="#000" stroke-width="3.4" stroke-linecap="round"/>
<rect x="131.8" y="1586.8" width="82.7" height="43.2" fill="#FFA040" stroke="#000" stroke-width="3.4" stroke-linejoin="round"/>
<line x1="131.8" y1="1621.4" x2="214.5" y2="1621.4" stroke="#000" stroke-width="3.4" stroke-linecap="butt"/>
<line x1="296.3" y1="1635.8" x2="296.3" y2="1638.2" stroke="#000" stroke-width="3.6" stroke-linecap="butt"/>
<line x1="275.0" y1="1635.8" x2="316.0" y2="1635.8" stroke="#000" stroke-width="3.6" stroke-linecap="round"/>
<line x1="296.3" y1="1642.6" x2="296.3" y2="1645.0" stroke="#000" stroke-width="3.6" stroke-linecap="butt"/>
<line x1="275.0" y1="1645.0" x2="316.0" y2="1645.0" stroke="#000" stroke-width="3.6" stroke-linecap="round"/>
<rect x="255.7" y="1638.2" width="81.2" height="4.4" fill="#000" stroke="#000" stroke-width="3.6" stroke-linejoin="round"/>
<line x1="419.9" y1="1425.7" x2="419.9" y2="1533.0" stroke="#000" stroke-width="3.4" stroke-linecap="butt"/>
<line x1="399.0" y1="1425.7" x2="441.0" y2="1425.7" stroke="#000" stroke-width="3.4" stroke-linecap="round"/>
<line x1="419.9" y1="1615.6" x2="419.9" y2="1618.3" stroke="#000" stroke-width="3.4" stroke-linecap="butt"/>
<line x1="399.0" y1="1618.3" x2="441.0" y2="1618.3" stroke="#000" stroke-width="3.4" stroke-linecap="round"/>
<rect x="378.7" y="1533.0" width="82.3" height="82.6" fill="#5858F8" stroke="#000" stroke-width="3.4" stroke-linejoin="round"/>
<line x1="378.7" y1="1589.0" x2="461.0" y2="1589.0" stroke="#000" stroke-width="3.4" stroke-linecap="butt"/>
<path d="M157.2,1402.5 V1382.8 H292.8 V1402.5" fill="none" stroke="#000" stroke-width="2.6" stroke-linejoin="round" stroke-linecap="round"/>
<path d="M302.0,1402.5 V1382.8 H438.8 V1402.5" fill="none" stroke="#000" stroke-width="2.6" stroke-linejoin="round" stroke-linecap="round"/>
<text x="218.3" y="1389.3" font-size="37.7" font-weight="normal" stroke="#000" stroke-width="0.8" stroke-linejoin="round" textLength="16.2" lengthAdjust="spacingAndGlyphs">*</text>
<text x="357.3" y="1389.3" font-size="37.7" font-weight="normal" stroke="#000" stroke-width="0.8" stroke-linejoin="round" textLength="16.2" lengthAdjust="spacingAndGlyphs">*</text>
<defs><filter id="bl1" x="-20%" y="-80%" width="140%" height="260%"><feGaussianBlur stdDeviation="2.6"/></filter><linearGradient id="gel" x1="0" x2="1" y1="0" y2="0"><stop offset="0" stop-color="#c5c5c5"/><stop offset="0.5" stop-color="#cbcbcb"/><stop offset="1" stop-color="#c6c6c6"/></linearGradient><clipPath id="cu"><rect x="766.7" y="1454.4" width="302.2" height="72"/></clipPath><clipPath id="cg"><rect x="766.7" y="1545.4" width="302.2" height="68.8"/></clipPath></defs>
<rect x="766.7" y="1454.4" width="302.2" height="72.0" fill="url(#gel)" stroke="#000" stroke-width="1.6" stroke-linejoin="miter"/>
<rect x="766.7" y="1545.4" width="302.2" height="68.8" fill="url(#gel)" stroke="#000" stroke-width="1.6" stroke-linejoin="miter"/>
<g clip-path="url(#cu)"><g filter="url(#bl1)"><path d="M796,1489.2 C815,1490.5 836,1487 856,1485.6" fill="none" stroke="#0a0a0a" stroke-width="9.5" stroke-linecap="round"/><path d="M887,1486 C905,1486 930,1490 951,1496" fill="none" stroke="#8e8e8e" stroke-width="6" stroke-linecap="round" opacity="0.6"/><path d="M984,1495.3 C1000,1496.5 1027,1500 1046,1502.3" fill="none" stroke="#060606" stroke-width="10.5" stroke-linecap="round"/></g></g>
<g clip-path="url(#cg)"><g filter="url(#bl1)"><path d="M782,1577.5 L800,1580" fill="none" stroke="#111" stroke-width="5" stroke-linecap="round"/><path d="M789,1579 C806,1581.5 835,1581.5 851,1578.5" fill="none" stroke="#040404" stroke-width="13.5" stroke-linecap="round"/><path d="M874,1579 L890,1582" fill="none" stroke="#222" stroke-width="5" stroke-linecap="round"/><path d="M881,1581.5 C897,1584 925,1584 940,1580.5" fill="none" stroke="#060606" stroke-width="12" stroke-linecap="round"/><path d="M973,1578 C990,1580 1018,1580 1036,1579" fill="none" stroke="#040404" stroke-width="12.5" stroke-linecap="round"/><path d="M853,1580 L878,1581" fill="none" stroke="#666" stroke-width="4" opacity="0.5"/></g></g>
<text x="680.7" y="1504.4" font-size="23.5" font-weight="bold" fill="#000" textLength="56.9" lengthAdjust="spacingAndGlyphs">UCP1</text>
<text x="662.1" y="1583.8" font-size="23.5" font-weight="bold" fill="#000" textLength="82.3" lengthAdjust="spacingAndGlyphs">GAPDH</text>
<text x="779.8" y="1446.5" font-size="17.5" font-weight="normal" fill="#333" stroke="#333" stroke-width="0.25" textLength="82.4" lengthAdjust="spacingAndGlyphs">1.0 ±0.45</text>
<text x="882.3" y="1445.7" font-size="17.5" font-weight="normal" fill="#333" stroke="#333" stroke-width="0.25" textLength="87.1" lengthAdjust="spacingAndGlyphs">0.3. ±0.13</text>
<text x="981.4" y="1447.0" font-size="17.5" font-weight="normal" fill="#333" stroke="#333" stroke-width="0.25" textLength="82.4" lengthAdjust="spacingAndGlyphs">1.2 ±0.38</text>
<text transform="translate(813.5,1414.5) rotate(-42)" x="-0.0" y="0" font-size="21.5" font-weight="bold" fill="#000" textLength="93.5" lengthAdjust="spacingAndGlyphs">WT-Cold</text>
<text transform="translate(912.5,1406.5) rotate(-42)" x="-1.5" y="0" font-size="21.5" font-weight="bold" fill="#000" textLength="95.0" lengthAdjust="spacingAndGlyphs">KO-Cold</text>
<text transform="translate(989.5,1409.5) rotate(-42)" x="-1.5" y="0" font-size="21.5" font-weight="bold" fill="#000" textLength="150.0" lengthAdjust="spacingAndGlyphs">KO+VitC-Cold</text>
<text x="1330.8" y="1300.2" font-size="23" font-weight="bold" fill="#000" stroke="#000" stroke-width="0.4" textLength="407.8" lengthAdjust="spacingAndGlyphs">Primary cultured adipocytes</text>
<line x1="1349.6" y1="1390.7" x2="1349.6" y2="1654.4" stroke="#000" stroke-width="2.6" stroke-linecap="butt"/>
<line x1="1340.5" y1="1392.0" x2="1349.6" y2="1392.0" stroke="#000" stroke-width="2.6" stroke-linecap="butt"/>
<line x1="1340.5" y1="1444.2" x2="1349.6" y2="1444.2" stroke="#000" stroke-width="2.6" stroke-linecap="butt"/>
<line x1="1340.5" y1="1496.4" x2="1349.6" y2="1496.4" stroke="#000" stroke-width="2.6" stroke-linecap="butt"/>
<line x1="1340.5" y1="1548.7" x2="1349.6" y2="1548.7" stroke="#000" stroke-width="2.6" stroke-linecap="butt"/>
<line x1="1340.5" y1="1600.9" x2="1349.6" y2="1600.9" stroke="#000" stroke-width="2.6" stroke-linecap="butt"/>
<line x1="1340.5" y1="1653.1" x2="1349.6" y2="1653.1" stroke="#000" stroke-width="2.6" stroke-linecap="butt"/>
<line x1="1340.5" y1="1653.1" x2="1742.0" y2="1653.1" stroke="#000" stroke-width="2.6" stroke-linecap="butt"/>
<line x1="1388.4" y1="1653.1" x2="1388.4" y2="1660.8" stroke="#000" stroke-width="2.6" stroke-linecap="butt"/>
<line x1="1466.6" y1="1653.1" x2="1466.6" y2="1660.8" stroke="#000" stroke-width="2.6" stroke-linecap="butt"/>
<line x1="1545.0" y1="1653.1" x2="1545.0" y2="1660.8" stroke="#000" stroke-width="2.6" stroke-linecap="butt"/>
<line x1="1622.9" y1="1653.1" x2="1622.9" y2="1660.8" stroke="#000" stroke-width="2.6" stroke-linecap="butt"/>
<line x1="1701.7" y1="1653.1" x2="1701.7" y2="1660.8" stroke="#000" stroke-width="2.6" stroke-linecap="butt"/>
<text x="1301.9" y="1400.4" font-size="23.5" font-weight="bold" fill="#000" stroke="#000" stroke-width="0.4" textLength="33.4" lengthAdjust="spacingAndGlyphs">25</text>
<text x="1301.8" y="1452.6" font-size="23.5" font-weight="bold" fill="#000" stroke="#000" stroke-width="0.4" textLength="33.9" lengthAdjust="spacingAndGlyphs">20</text>
<text x="1301.1" y="1504.8" font-size="23.5" font-weight="bold" fill="#000" stroke="#000" stroke-width="0.4" textLength="34.2" lengthAdjust="spacingAndGlyphs">15</text>
<text x="1301.0" y="1557.1" font-size="23.5" font-weight="bold" fill="#000" stroke="#000" stroke-width="0.4" textLength="34.7" lengthAdjust="spacingAndGlyphs">10</text>
<text x="1318.6" y="1609.3" font-size="23.5" font-weight="bold" fill="#000" stroke="#000" stroke-width="0.4" textLength="16.6" lengthAdjust="spacingAndGlyphs">5</text>
<text x="1318.2" y="1661.5" font-size="23.5" font-weight="bold" fill="#000" stroke="#000" stroke-width="0.4" textLength="17.4" lengthAdjust="spacingAndGlyphs">0</text>
<text x="1402.9" y="1404.9" font-size="23.5" font-weight="bold" fill="#000" stroke="#000" stroke-width="0.4" textLength="77.3" lengthAdjust="spacingAndGlyphs">UCP1</text>
<text x="1589.5" y="1403.4" font-size="23.5" font-weight="bold" fill="#000" stroke="#000" stroke-width="0.4" textLength="102.3" lengthAdjust="spacingAndGlyphs">PGC1α</text>
<text transform="translate(1284.5,1636.0) rotate(-90)" x="-1.6" y="0" font-size="26.5" font-weight="bold" fill="#000" stroke="#000" stroke-width="0.3" textLength="237.3" lengthAdjust="spacingAndGlyphs">Relative expression</text>
<line x1="1388.4" y1="1639.5" x2="1388.4" y2="1641.0" stroke="#000" stroke-width="4" stroke-linecap="butt"/>
<line x1="1375.0" y1="1639.5" x2="1402.0" y2="1639.5" stroke="#000" stroke-width="4" stroke-linecap="round"/>
<line x1="1388.4" y1="1644.0" x2="1388.4" y2="1646.0" stroke="#000" stroke-width="4" stroke-linecap="butt"/>
<line x1="1375.0" y1="1646.0" x2="1402.0" y2="1646.0" stroke="#000" stroke-width="4" stroke-linecap="round"/>
<rect x="1362.9" y="1641.0" width="51.0" height="3.0" fill="#FFA040" stroke="#000" stroke-width="4" stroke-linejoin="round"/>
<line x1="1467.2" y1="1485.2" x2="1467.2" y2="1504.0" stroke="#000" stroke-width="4" stroke-linecap="butt"/>
<line x1="1453.5" y1="1485.2" x2="1480.0" y2="1485.2" stroke="#000" stroke-width="4" stroke-linecap="round"/>
<line x1="1467.2" y1="1623.3" x2="1467.2" y2="1625.5" stroke="#000" stroke-width="4" stroke-linecap="butt"/>
<line x1="1453.5" y1="1625.5" x2="1480.0" y2="1625.5" stroke="#000" stroke-width="4" stroke-linecap="round"/>
<rect x="1443.2" y="1504.0" width="47.9" height="119.3" fill="#FFA040" stroke="#000" stroke-width="4" stroke-linejoin="round"/>
<line x1="1443.2" y1="1613.1" x2="1491.1" y2="1613.1" stroke="#000" stroke-width="3" stroke-linecap="butt"/>
<line x1="1623.2" y1="1641.0" x2="1623.2" y2="1643.0" stroke="#000" stroke-width="4" stroke-linecap="butt"/>
<line x1="1610.0" y1="1641.0" x2="1637.0" y2="1641.0" stroke="#000" stroke-width="4" stroke-linecap="round"/>
<line x1="1623.2" y1="1645.5" x2="1623.2" y2="1647.5" stroke="#000" stroke-width="4" stroke-linecap="butt"/>
<line x1="1610.0" y1="1647.5" x2="1637.0" y2="1647.5" stroke="#000" stroke-width="4" stroke-linecap="round"/>
<rect x="1598.0" y="1643.0" width="50.4" height="2.5" fill="#FFA040" stroke="#000" stroke-width="4" stroke-linejoin="round"/>
<line x1="1702.0" y1="1603.4" x2="1702.0" y2="1612.0" stroke="#000" stroke-width="4" stroke-linecap="butt"/>
<line x1="1690.0" y1="1603.4" x2="1714.5" y2="1603.4" stroke="#000" stroke-width="4" stroke-linecap="round"/>
<line x1="1702.0" y1="1631.9" x2="1702.0" y2="1636.5" stroke="#000" stroke-width="4" stroke-linecap="butt"/>
<line x1="1690.0" y1="1636.5" x2="1714.5" y2="1636.5" stroke="#000" stroke-width="4" stroke-linecap="round"/>
<rect x="1677.7" y="1612.0" width="48.5" height="19.9" fill="#FFA040" stroke="#000" stroke-width="4" stroke-linejoin="round"/>
<line x1="1677.7" y1="1628.5" x2="1726.2" y2="1628.5" stroke="#000" stroke-width="2" stroke-linecap="butt"/>
<text x="1437.3" y="1491.5" font-size="44" font-weight="normal" fill="#000" textLength="67.2" lengthAdjust="spacingAndGlyphs">***</text>
<text x="1672.4" y="1609.5" font-size="44" font-weight="normal" fill="#000" textLength="67.2" lengthAdjust="spacingAndGlyphs">***</text>
<text transform="translate(1391.4,1684.5) rotate(-45)" x="-104.0" y="0" font-size="24" font-weight="bold" fill="#000" stroke="#000" stroke-width="0.5" textLength="105.7" lengthAdjust="spacingAndGlyphs">WT-Con</text>
<text transform="translate(1469.6,1684.5) rotate(-45)" x="-137.0" y="0" font-size="24" font-weight="bold" fill="#000" stroke="#000" stroke-width="0.5" textLength="137.7" lengthAdjust="spacingAndGlyphs">WT-FGF21</text>
<text transform="translate(1625.9,1684.5) rotate(-45)" x="-104.0" y="0" font-size="24" font-weight="bold" fill="#000" stroke="#000" stroke-width="0.5" textLength="105.7" lengthAdjust="spacingAndGlyphs">WT-Con</text>
<text transform="translate(1704.7,1684.5) rotate(-45)" x="-137.0" y="0" font-size="24" font-weight="bold" fill="#000" stroke="#000" stroke-width="0.5" textLength="137.7" lengthAdjust="spacingAndGlyphs">WT-FGF21</text>
</svg>
</body>
</html>
